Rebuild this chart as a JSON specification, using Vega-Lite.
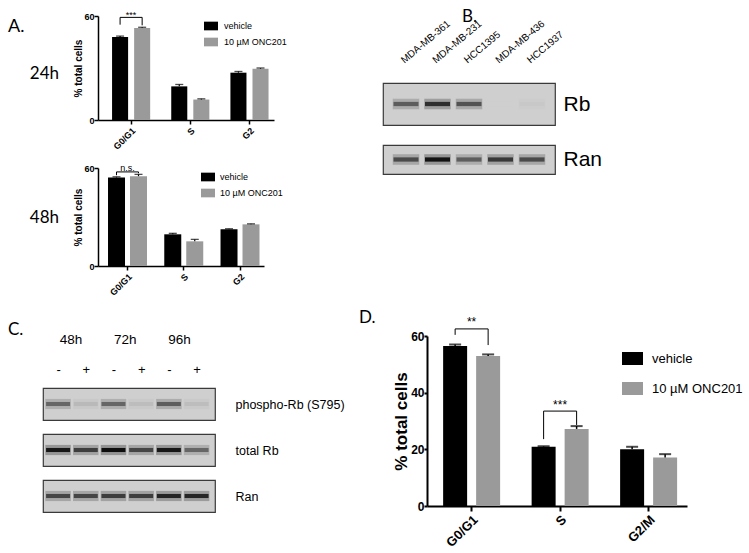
{
  "$schema": "https://vega.github.io/schema/vega-lite/v6.json",
  "padding": {"left": 8, "top": 8, "right": 5, "bottom": 5},
  "background": "white",
  "config": {
    "font": "Liberation Sans",
    "view": {"stroke": null},
    "axis": {"labelFont": "Liberation Sans", "titleFont": "Liberation Sans", "domainColor": "#000", "tickColor": "#000", "labelColor": "#000", "titleColor": "#000", "grid": false},
    "legend": {"labelFont": "Liberation Sans", "labelColor": "#000"},
    "title": {"color": "#000", "fontWeight": "normal"}
  },
  "datasets": {
    "cc": [
      {"panel": "24h", "phase": "G0/G1", "treat": "vehicle", "mean": 47.9, "hi": 48.4},
      {"panel": "24h", "phase": "G0/G1", "treat": "10 µM ONC201", "mean": 53.1, "hi": 53.5},
      {"panel": "24h", "phase": "S", "treat": "vehicle", "mean": 19.4, "hi": 20.5},
      {"panel": "24h", "phase": "S", "treat": "10 µM ONC201", "mean": 11.8, "hi": 12.2},
      {"panel": "24h", "phase": "G2", "treat": "vehicle", "mean": 27.3, "hi": 28.0},
      {"panel": "24h", "phase": "G2", "treat": "10 µM ONC201", "mean": 29.6, "hi": 30.0},
      {"panel": "48h", "phase": "G0/G1", "treat": "vehicle", "mean": 54.2, "hi": 54.6},
      {"panel": "48h", "phase": "G0/G1", "treat": "10 µM ONC201", "mean": 55.0, "hi": 56.1},
      {"panel": "48h", "phase": "S", "treat": "vehicle", "mean": 19.4, "hi": 20.0},
      {"panel": "48h", "phase": "S", "treat": "10 µM ONC201", "mean": 15.1, "hi": 16.3},
      {"panel": "48h", "phase": "G2", "treat": "vehicle", "mean": 22.5, "hi": 22.8},
      {"panel": "48h", "phase": "G2", "treat": "10 µM ONC201", "mean": 25.5, "hi": 25.8},
      {"panel": "D", "phase": "G0/G1", "treat": "vehicle", "mean": 56.5, "hi": 57.0},
      {"panel": "D", "phase": "G0/G1", "treat": "10 µM ONC201", "mean": 52.9, "hi": 53.5},
      {"panel": "D", "phase": "S", "treat": "vehicle", "mean": 20.9, "hi": 21.1},
      {"panel": "D", "phase": "S", "treat": "10 µM ONC201", "mean": 27.2, "hi": 28.2},
      {"panel": "D", "phase": "G2/M", "treat": "vehicle", "mean": 20.0, "hi": 20.9},
      {"panel": "D", "phase": "G2/M", "treat": "10 µM ONC201", "mean": 17.1, "hi": 18.3}
    ],
    "br": [
      {"panel": "24h", "id": "a", "ord": 1, "phase": "G0/G1", "treat": "vehicle", "y": 55.0},
      {"panel": "24h", "id": "a", "ord": 2, "phase": "G0/G1", "treat": "vehicle", "y": 59.2},
      {"panel": "24h", "id": "a", "ord": 3, "phase": "G0/G1", "treat": "10 µM ONC201", "y": 59.2},
      {"panel": "24h", "id": "a", "ord": 4, "phase": "G0/G1", "treat": "10 µM ONC201", "y": 54.6},
      {"panel": "48h", "id": "b", "ord": 1, "phase": "G0/G1", "treat": "vehicle", "y": 55.6},
      {"panel": "48h", "id": "b", "ord": 2, "phase": "G0/G1", "treat": "vehicle", "y": 57.6},
      {"panel": "48h", "id": "b", "ord": 3, "phase": "G0/G1", "treat": "10 µM ONC201", "y": 57.6},
      {"panel": "48h", "id": "b", "ord": 4, "phase": "G0/G1", "treat": "10 µM ONC201", "y": 56.8},
      {"panel": "D", "id": "c", "ord": 1, "phase": "G0/G1", "treat": "vehicle", "y": 60.4},
      {"panel": "D", "id": "c", "ord": 2, "phase": "G0/G1", "treat": "vehicle", "y": 62.5},
      {"panel": "D", "id": "c", "ord": 3, "phase": "G0/G1", "treat": "10 µM ONC201", "y": 62.5},
      {"panel": "D", "id": "c", "ord": 4, "phase": "G0/G1", "treat": "10 µM ONC201", "y": 56.8},
      {"panel": "D", "id": "d", "ord": 1, "phase": "S", "treat": "vehicle", "y": 23.6},
      {"panel": "D", "id": "d", "ord": 2, "phase": "S", "treat": "vehicle", "y": 33.5},
      {"panel": "D", "id": "d", "ord": 3, "phase": "S", "treat": "10 µM ONC201", "y": 33.5},
      {"panel": "D", "id": "d", "ord": 4, "phase": "S", "treat": "10 µM ONC201", "y": 28.6}
    ],
    "sig": [
      {"panel": "24h", "phase": "G0/G1", "y": 58.6, "label": "***"},
      {"panel": "48h", "phase": "G0/G1", "y": 58.4, "label": "n.s."},
      {"panel": "D", "phase": "G0/G1", "y": 63.4, "label": "**"},
      {"panel": "D", "phase": "S", "y": 34.2, "label": "***"}
    ],
    "blotB": [
      {"row": "Rb", "lane": "MDA-MB-361", "v": 0.55},
      {"row": "Rb", "lane": "MDA-MB-231", "v": 0.8},
      {"row": "Rb", "lane": "HCC1395", "v": 0.6},
      {"row": "Rb", "lane": "MDA-MB-436", "v": 0.0},
      {"row": "Rb", "lane": "HCC1937", "v": 0.03},
      {"row": "Ran", "lane": "MDA-MB-361", "v": 0.65},
      {"row": "Ran", "lane": "MDA-MB-231", "v": 0.97},
      {"row": "Ran", "lane": "HCC1395", "v": 0.55},
      {"row": "Ran", "lane": "MDA-MB-436", "v": 0.75},
      {"row": "Ran", "lane": "HCC1937", "v": 0.65}
    ],
    "blotC": [
      {"row": "phospho-Rb (S795)", "lane": "48h -", "v": 0.5},
      {"row": "phospho-Rb (S795)", "lane": "48h +", "v": 0.1},
      {"row": "phospho-Rb (S795)", "lane": "72h -", "v": 0.5},
      {"row": "phospho-Rb (S795)", "lane": "72h +", "v": 0.08},
      {"row": "phospho-Rb (S795)", "lane": "96h -", "v": 0.55},
      {"row": "phospho-Rb (S795)", "lane": "96h +", "v": 0.08},
      {"row": "total Rb", "lane": "48h -", "v": 0.95},
      {"row": "total Rb", "lane": "48h +", "v": 0.72},
      {"row": "total Rb", "lane": "72h -", "v": 1.0},
      {"row": "total Rb", "lane": "72h +", "v": 0.68},
      {"row": "total Rb", "lane": "96h -", "v": 0.95},
      {"row": "total Rb", "lane": "96h +", "v": 0.5},
      {"row": "Ran", "lane": "48h -", "v": 0.68},
      {"row": "Ran", "lane": "48h +", "v": 0.68},
      {"row": "Ran", "lane": "72h -", "v": 0.72},
      {"row": "Ran", "lane": "72h +", "v": 0.72},
      {"row": "Ran", "lane": "96h -", "v": 0.86},
      {"row": "Ran", "lane": "96h +", "v": 0.86}
    ],
    "times": [{"time": "48h"}, {"time": "72h"}, {"time": "96h"}]
  },
  "align": "none",
  "spacing": 11,
  "resolve": {"scale": {"color": "independent", "xOffset": "independent"}, "legend": {"color": "independent"}},
  "vconcat": [
    {
      "align": "none",
      "spacing": 95,
      "resolve": {"scale": {"color": "independent", "xOffset": "independent"}, "legend": {"color": "independent"}},
      "hconcat": [
        {
          "align": "none",
          "spacing": 4,
          "resolve": {"scale": {"color": "independent", "xOffset": "independent"}, "legend": {"color": "independent"}},
          "hconcat": [
            {
              "width": 14, "height": 14,
              "view": {"fill": "#ffffff"},
              "title": {"text": "A.", "anchor": "start", "frame": "group", "dx": 0, "offset": -34, "baseline": "alphabetic", "fontSize": 18, "font": "Lato"},
              "data": {"values": [{"k": 1}]},
              "mark": {"type": "point", "opacity": 0}
            },
            {
              "align": "each",
              "spacing": 11,
              "resolve": {"scale": {"color": "independent", "xOffset": "independent"}, "legend": {"color": "independent"}},
              "vconcat": [
                {
                  "width": 176, "height": 104,
                  "title": {"text": "24h", "orient": "left", "angle": 0, "align": "left", "baseline": "middle", "anchor": "middle", "offset": 15, "dy": 6, "fontSize": 17, "font": "Lato"},
                  "layer": [
                    {
                      "data": {"name": "cc"},
                      "transform": [{"filter": "datum.panel === '24h'"}],
                      "mark": {"type": "bar"},
                      "encoding": {
                        "x": {"field": "phase", "type": "nominal", "sort": ["G0/G1", "S", "G2"], "scale": {"type": "band", "paddingInner": 0.356, "paddingOuter": 0.165, "align": 0.72}, "axis": {"title": null, "labelAngle": -45, "labelFontSize": 9, "labelFontWeight": "bold", "tickSize": 4, "tickWidth": 1.5, "domainWidth": 1.5, "labelPadding": 2}},
                        "xOffset": {"field": "treat", "type": "nominal", "sort": ["vehicle", "10 µM ONC201"], "scale": {"paddingInner": 0.273, "paddingOuter": 0}},
                        "y": {"field": "mean", "type": "quantitative", "scale": {"domain": [0, 60], "nice": false}, "axis": {"title": "% total cells", "values": [0, 20, 40, 60], "labelFontSize": 9, "labelFontWeight": "bold", "titleFontSize": 10, "titleFontWeight": "bold", "titlePadding": 0, "tickSize": 4, "tickWidth": 1.5, "domainWidth": 1.5, "labelPadding": 0}},
                        "color": {"field": "treat", "type": "nominal", "sort": ["vehicle", "10 µM ONC201"], "scale": {"domain": ["vehicle", "10 µM ONC201"], "range": ["#000000", "#9a9a9a"]}, "legend": {"title": null, "orient": "none", "legendX": 106, "legendY": 3, "symbolType": "M-1,-0.62H1V0.62H-1Z", "symbolSize": 196, "symbolStrokeWidth": 0, "labelFontSize": 9, "rowPadding": 4, "padding": 0, "labelOffset": 6}}
                      }
                    },
                    {
                      "data": {"name": "cc"},
                      "transform": [{"filter": "datum.panel === '24h'"}],
                      "mark": {"type": "rule", "color": "#000", "strokeWidth": 1.2},
                      "encoding": {
                        "x": {"field": "phase", "type": "nominal", "sort": ["G0/G1", "S", "G2"]},
                        "xOffset": {"field": "treat", "type": "nominal", "sort": ["vehicle", "10 µM ONC201"]},
                        "y": {"field": "mean", "type": "quantitative"},
                        "y2": {"field": "hi"}
                      }
                    },
                    {
                      "data": {"name": "cc"},
                      "transform": [{"filter": "datum.panel === '24h'"}],
                      "mark": {"type": "tick", "orient": "horizontal", "color": "#000", "thickness": 1.3, "size": 8},
                      "encoding": {
                        "x": {"field": "phase", "type": "nominal", "sort": ["G0/G1", "S", "G2"]},
                        "xOffset": {"field": "treat", "type": "nominal", "sort": ["vehicle", "10 µM ONC201"]},
                        "y": {"field": "hi", "type": "quantitative"}
                      }
                    },
                    {
                      "data": {"name": "br"},
                      "transform": [{"filter": "datum.panel === '24h'"}],
                      "mark": {"type": "line", "color": "#000", "strokeWidth": 1},
                      "encoding": {
                        "x": {"field": "phase", "type": "nominal", "sort": ["G0/G1", "S", "G2"]},
                        "xOffset": {"field": "treat", "type": "nominal", "sort": ["vehicle", "10 µM ONC201"]},
                        "y": {"field": "y", "type": "quantitative"},
                        "order": {"field": "ord", "type": "quantitative"},
                        "detail": {"field": "id", "type": "nominal"}
                      }
                    },
                    {
                      "data": {"name": "sig"},
                      "transform": [{"filter": "datum.panel === '24h'"}],
                      "mark": {"type": "text", "fontSize": 9, "baseline": "alphabetic", "color": "#000"},
                      "encoding": {
                        "x": {"field": "phase", "type": "nominal", "sort": ["G0/G1", "S", "G2"]},
                        "y": {"field": "y", "type": "quantitative"},
                        "text": {"field": "label"}
                      }
                    }
                  ]
                },
                {
                  "width": 166, "height": 98,
                  "title": {"text": "48h", "orient": "left", "angle": 0, "align": "left", "baseline": "middle", "anchor": "middle", "offset": 15, "dy": 1, "fontSize": 17, "font": "Lato"},
                  "layer": [
                    {
                      "data": {"name": "cc"},
                      "transform": [{"filter": "datum.panel === '48h'"}],
                      "mark": {"type": "bar"},
                      "encoding": {
                        "x": {"field": "phase", "type": "nominal", "sort": ["G0/G1", "S", "G2"], "scale": {"type": "band", "paddingInner": 0.307, "paddingOuter": 0.129, "align": 0.69}, "axis": {"title": null, "labelAngle": -45, "labelFontSize": 9, "labelFontWeight": "bold", "tickSize": 4, "tickWidth": 1.5, "domainWidth": 1.5, "labelPadding": 2}},
                        "xOffset": {"field": "treat", "type": "nominal", "sort": ["vehicle", "10 µM ONC201"], "scale": {"paddingInner": 0.227, "paddingOuter": 0}},
                        "y": {"field": "mean", "type": "quantitative", "scale": {"domain": [0, 60], "nice": false}, "axis": {"title": "% total cells", "values": [0, 20, 40, 60], "labelFontSize": 9, "labelFontWeight": "bold", "titleFontSize": 10, "titleFontWeight": "bold", "titlePadding": 0, "tickSize": 4, "tickWidth": 1.5, "domainWidth": 1.5, "labelPadding": 0}},
                        "color": {"field": "treat", "type": "nominal", "sort": ["vehicle", "10 µM ONC201"], "scale": {"domain": ["vehicle", "10 µM ONC201"], "range": ["#000000", "#9a9a9a"]}, "legend": {"title": null, "orient": "none", "legendX": 103, "legendY": 2, "symbolType": "M-1,-0.62H1V0.62H-1Z", "symbolSize": 196, "symbolStrokeWidth": 0, "labelFontSize": 9, "rowPadding": 4, "padding": 0, "labelOffset": 5}}
                      }
                    },
                    {
                      "data": {"name": "cc"},
                      "transform": [{"filter": "datum.panel === '48h'"}],
                      "mark": {"type": "rule", "color": "#000", "strokeWidth": 1.2},
                      "encoding": {
                        "x": {"field": "phase", "type": "nominal", "sort": ["G0/G1", "S", "G2"]},
                        "xOffset": {"field": "treat", "type": "nominal", "sort": ["vehicle", "10 µM ONC201"]},
                        "y": {"field": "mean", "type": "quantitative"},
                        "y2": {"field": "hi"}
                      }
                    },
                    {
                      "data": {"name": "cc"},
                      "transform": [{"filter": "datum.panel === '48h'"}],
                      "mark": {"type": "tick", "orient": "horizontal", "color": "#000", "thickness": 1.3, "size": 8},
                      "encoding": {
                        "x": {"field": "phase", "type": "nominal", "sort": ["G0/G1", "S", "G2"]},
                        "xOffset": {"field": "treat", "type": "nominal", "sort": ["vehicle", "10 µM ONC201"]},
                        "y": {"field": "hi", "type": "quantitative"}
                      }
                    },
                    {
                      "data": {"name": "br"},
                      "transform": [{"filter": "datum.panel === '48h'"}],
                      "mark": {"type": "line", "color": "#000", "strokeWidth": 1},
                      "encoding": {
                        "x": {"field": "phase", "type": "nominal", "sort": ["G0/G1", "S", "G2"]},
                        "xOffset": {"field": "treat", "type": "nominal", "sort": ["vehicle", "10 µM ONC201"]},
                        "y": {"field": "y", "type": "quantitative"},
                        "order": {"field": "ord", "type": "quantitative"},
                        "detail": {"field": "id", "type": "nominal"}
                      }
                    },
                    {
                      "data": {"name": "sig"},
                      "transform": [{"filter": "datum.panel === '48h'"}],
                      "mark": {"type": "text", "fontSize": 9, "baseline": "alphabetic", "color": "#000"},
                      "encoding": {
                        "x": {"field": "phase", "type": "nominal", "sort": ["G0/G1", "S", "G2"]},
                        "y": {"field": "y", "type": "quantitative"},
                        "text": {"field": "label"}
                      }
                    }
                  ]
                }
              ]
            }
          ]
        },
        {
          "bounds": "flush",
          "spacing": 20,
          "resolve": {"scale": {"color": "independent"}, "legend": {"color": "independent"}},
          "vconcat": [
            {
              "width": 172, "height": 47,
              "view": {"fill": "#ffffff"},
              "title": {"text": "B.", "anchor": "start", "frame": "group", "dx": 79, "offset": -23, "baseline": "alphabetic", "fontSize": 17, "font": "Lato"},
              "data": {"values": [{"k": 1}]},
              "mark": {"type": "point", "opacity": 0}
            },
            {
              "width": 172, "height": 42,
              "view": {"fill": "#cfcfcf", "stroke": "#3a3a3a", "strokeWidth": 1.2},
              "layer": [
                {
                  "data": {"name": "blotB"},
                  "transform": [{"filter": "datum.row === 'Rb'"}],
                  "mark": {"type": "point", "shape": "M-1,-0.4H1V0.4H-1Z", "filled": true, "size": 700, "opacity": 0.3, "strokeWidth": 0},
                  "encoding": {
                    "x": {"field": "lane", "type": "nominal", "sort": ["MDA-MB-361", "MDA-MB-231", "HCC1395", "MDA-MB-436", "HCC1937"], "scale": {"type": "point", "padding": 0.73, "align": 0.5}, "axis": {"orient": "top", "title": null, "domain": false, "ticks": false, "tickSize": 0, "labelAngle": -40, "labelAlign": "left", "labelBaseline": "middle", "labelPadding": 22, "labelOffset": -4, "labelFontSize": 10}},
                    "y": {"field": "row", "type": "nominal", "axis": {"orient": "right", "title": null, "domain": false, "ticks": false, "tickSize": 0, "labelPadding": 8, "labelFontSize": 21, "labelAngle": 0}},
                    "color": {"field": "v", "type": "quantitative", "scale": {"domain": [0, 1], "range": ["#cfcfcf", "#0d0d0d"]}, "legend": null}
                  }
                },
                {
                  "data": {"name": "blotB"},
                  "transform": [{"filter": "datum.row === 'Rb'"}],
                  "mark": {"type": "point", "shape": "M-1,-0.17H1V0.17H-1Z", "filled": true, "size": 625, "opacity": 1, "strokeWidth": 0},
                  "encoding": {
                    "x": {"field": "lane", "type": "nominal", "sort": ["MDA-MB-361", "MDA-MB-231", "HCC1395", "MDA-MB-436", "HCC1937"]},
                    "y": {"field": "row", "type": "nominal"},
                    "color": {"field": "v", "type": "quantitative", "scale": {"domain": [0, 1], "range": ["#cfcfcf", "#0d0d0d"]}, "legend": null}
                  }
                }
              ]
            },
            {
              "width": 172, "height": 29,
              "view": {"fill": "#cfcfcf", "stroke": "#3a3a3a", "strokeWidth": 1.2},
              "layer": [
                {
                  "data": {"name": "blotB"},
                  "transform": [{"filter": "datum.row === 'Ran'"}],
                  "mark": {"type": "point", "shape": "M-1,-0.4H1V0.4H-1Z", "filled": true, "size": 700, "opacity": 0.3, "strokeWidth": 0},
                  "encoding": {
                    "x": {"field": "lane", "type": "nominal", "sort": ["MDA-MB-361", "MDA-MB-231", "HCC1395", "MDA-MB-436", "HCC1937"], "scale": {"type": "point", "padding": 0.73, "align": 0.5}, "axis": null},
                    "y": {"field": "row", "type": "nominal", "axis": {"orient": "right", "title": null, "domain": false, "ticks": false, "tickSize": 0, "labelPadding": 8, "labelFontSize": 21, "labelAngle": 0}},
                    "color": {"field": "v", "type": "quantitative", "scale": {"domain": [0, 1], "range": ["#cfcfcf", "#0d0d0d"]}, "legend": null}
                  }
                },
                {
                  "data": {"name": "blotB"},
                  "transform": [{"filter": "datum.row === 'Ran'"}],
                  "mark": {"type": "point", "shape": "M-1,-0.17H1V0.17H-1Z", "filled": true, "size": 625, "opacity": 1, "strokeWidth": 0},
                  "encoding": {
                    "x": {"field": "lane", "type": "nominal", "sort": ["MDA-MB-361", "MDA-MB-231", "HCC1395", "MDA-MB-436", "HCC1937"]},
                    "y": {"field": "row", "type": "nominal"},
                    "color": {"field": "v", "type": "quantitative", "scale": {"domain": [0, 1], "range": ["#cfcfcf", "#0d0d0d"]}, "legend": null}
                  }
                }
              ]
            }
          ]
        }
      ]
    },
    {
      "title": {"text": "D.", "anchor": "start", "frame": "bounds", "dx": 351, "offset": -24, "baseline": "alphabetic", "fontSize": 17, "font": "Lato"},
      "align": "none",
      "spacing": 47,
      "resolve": {"scale": {"color": "independent", "xOffset": "independent"}, "legend": {"color": "independent"}},
      "hconcat": [
        {
          "align": "none",
          "spacing": 18,
          "resolve": {"scale": {"color": "independent"}, "legend": {"color": "independent"}},
          "hconcat": [
            {
              "width": 14, "height": 14,
              "view": {"fill": "#ffffff"},
              "title": {"text": "C.", "anchor": "start", "frame": "group", "dx": 0, "offset": -16, "baseline": "alphabetic", "fontSize": 17, "font": "Lato"},
              "data": {"values": [{"k": 1}]},
              "mark": {"type": "point", "opacity": 0}
            },
            {
              "bounds": "flush",
              "spacing": 14,
              "resolve": {"scale": {"color": "independent"}, "legend": {"color": "independent"}},
              "vconcat": [
                {
                  "width": 172, "height": 38,
                  "view": {"fill": "#ffffff"},
                  "data": {"name": "times"},
                  "mark": {"type": "point", "opacity": 0},
                  "encoding": {
                    "x": {"field": "time", "type": "nominal", "sort": ["48h", "72h", "96h"], "scale": {"type": "point", "padding": 0.585, "align": 0.433}, "axis": {"orient": "top", "title": null, "domain": false, "ticks": false, "tickSize": 0, "labelAngle": 0, "labelPadding": -7, "labelBaseline": "alphabetic", "labelFontSize": 13.5}}
                  }
                },
                {
                  "width": 172, "height": 32,
                  "view": {"fill": "#cfcfcf", "stroke": "#3a3a3a", "strokeWidth": 1.2},
                  "layer": [
                    {
                      "data": {"name": "blotC"},
                      "transform": [{"filter": "datum.row === 'phospho-Rb (S795)'"}],
                      "mark": {"type": "point", "shape": "M-1,-0.4H1V0.4H-1Z", "filled": true, "size": 650, "opacity": 0.3, "strokeWidth": 0},
                      "encoding": {
                        "x": {"field": "lane", "type": "nominal", "sort": ["48h -", "48h +", "72h -", "72h +", "96h -", "96h +"], "scale": {"type": "point", "padding": 0.605, "align": 0.45}, "axis": {"orient": "top", "title": null, "domain": false, "ticks": false, "tickSize": 0, "labelExpr": "split(datum.value, ' ')[1]", "labelAngle": 0, "labelPadding": 12, "labelFontSize": 13}},
                        "y": {"field": "row", "type": "nominal", "axis": {"orient": "right", "title": null, "domain": false, "ticks": false, "tickSize": 0, "labelPadding": 20, "labelFontSize": 12.5, "labelAngle": 0}},
                        "color": {"field": "v", "type": "quantitative", "scale": {"domain": [0, 1], "range": ["#cfcfcf", "#0d0d0d"]}, "legend": null}
                      }
                    },
                    {
                      "data": {"name": "blotC"},
                      "transform": [{"filter": "datum.row === 'phospho-Rb (S795)'"}],
                      "mark": {"type": "point", "shape": "M-1,-0.17H1V0.17H-1Z", "filled": true, "size": 576, "opacity": 1, "strokeWidth": 0},
                      "encoding": {
                        "x": {"field": "lane", "type": "nominal", "sort": ["48h -", "48h +", "72h -", "72h +", "96h -", "96h +"]},
                        "y": {"field": "row", "type": "nominal"},
                        "color": {"field": "v", "type": "quantitative", "scale": {"domain": [0, 1], "range": ["#cfcfcf", "#0d0d0d"]}, "legend": null}
                      }
                    }
                  ]
                },
                {
                  "width": 172, "height": 32,
                  "view": {"fill": "#cfcfcf", "stroke": "#3a3a3a", "strokeWidth": 1.2},
                  "layer": [
                    {
                      "data": {"name": "blotC"},
                      "transform": [{"filter": "datum.row === 'total Rb'"}],
                      "mark": {"type": "point", "shape": "M-1,-0.4H1V0.4H-1Z", "filled": true, "size": 650, "opacity": 0.3, "strokeWidth": 0},
                      "encoding": {
                        "x": {"field": "lane", "type": "nominal", "sort": ["48h -", "48h +", "72h -", "72h +", "96h -", "96h +"], "scale": {"type": "point", "padding": 0.605, "align": 0.45}, "axis": null},
                        "y": {"field": "row", "type": "nominal", "axis": {"orient": "right", "title": null, "domain": false, "ticks": false, "tickSize": 0, "labelPadding": 20, "labelFontSize": 12.5, "labelAngle": 0}},
                        "color": {"field": "v", "type": "quantitative", "scale": {"domain": [0, 1], "range": ["#cfcfcf", "#0d0d0d"]}, "legend": null}
                      }
                    },
                    {
                      "data": {"name": "blotC"},
                      "transform": [{"filter": "datum.row === 'total Rb'"}],
                      "mark": {"type": "point", "shape": "M-1,-0.17H1V0.17H-1Z", "filled": true, "size": 576, "opacity": 1, "strokeWidth": 0},
                      "encoding": {
                        "x": {"field": "lane", "type": "nominal", "sort": ["48h -", "48h +", "72h -", "72h +", "96h -", "96h +"]},
                        "y": {"field": "row", "type": "nominal"},
                        "color": {"field": "v", "type": "quantitative", "scale": {"domain": [0, 1], "range": ["#cfcfcf", "#0d0d0d"]}, "legend": null}
                      }
                    }
                  ]
                },
                {
                  "width": 172, "height": 32,
                  "view": {"fill": "#cfcfcf", "stroke": "#3a3a3a", "strokeWidth": 1.2},
                  "layer": [
                    {
                      "data": {"name": "blotC"},
                      "transform": [{"filter": "datum.row === 'Ran'"}],
                      "mark": {"type": "point", "shape": "M-1,-0.4H1V0.4H-1Z", "filled": true, "size": 650, "opacity": 0.3, "strokeWidth": 0},
                      "encoding": {
                        "x": {"field": "lane", "type": "nominal", "sort": ["48h -", "48h +", "72h -", "72h +", "96h -", "96h +"], "scale": {"type": "point", "padding": 0.605, "align": 0.45}, "axis": null},
                        "y": {"field": "row", "type": "nominal", "axis": {"orient": "right", "title": null, "domain": false, "ticks": false, "tickSize": 0, "labelPadding": 20, "labelFontSize": 12.5, "labelAngle": 0}},
                        "color": {"field": "v", "type": "quantitative", "scale": {"domain": [0, 1], "range": ["#cfcfcf", "#0d0d0d"]}, "legend": null}
                      }
                    },
                    {
                      "data": {"name": "blotC"},
                      "transform": [{"filter": "datum.row === 'Ran'"}],
                      "mark": {"type": "point", "shape": "M-1,-0.17H1V0.17H-1Z", "filled": true, "size": 576, "opacity": 1, "strokeWidth": 0},
                      "encoding": {
                        "x": {"field": "lane", "type": "nominal", "sort": ["48h -", "48h +", "72h -", "72h +", "96h -", "96h +"]},
                        "y": {"field": "row", "type": "nominal"},
                        "color": {"field": "v", "type": "quantitative", "scale": {"domain": [0, 1], "range": ["#cfcfcf", "#0d0d0d"]}, "legend": null}
                      }
                    }
                  ]
                }
              ]
            }
          ]
        },
        {
          "width": 260, "height": 170,
          "layer": [
            {
              "data": {"name": "cc"},
              "transform": [{"filter": "datum.panel === 'D'"}],
              "mark": {"type": "bar"},
              "encoding": {
                "x": {"field": "phase", "type": "nominal", "sort": ["G0/G1", "S", "G2/M"], "scale": {"type": "band", "paddingInner": 0.356, "paddingOuter": 0.147, "align": 0.62}, "axis": {"title": null, "labelAngle": -45, "labelFontSize": 13, "labelFontWeight": "bold", "tickSize": 5, "tickWidth": 2, "domainWidth": 2, "labelPadding": 2}},
                "xOffset": {"field": "treat", "type": "nominal", "sort": ["vehicle", "10 µM ONC201"], "scale": {"paddingInner": 0.273, "paddingOuter": 0}},
                "y": {"field": "mean", "type": "quantitative", "scale": {"domain": [0, 60], "nice": false}, "axis": {"title": "% total cells", "values": [0, 20, 40, 60], "labelFontSize": 12, "labelFontWeight": "bold", "titleFontSize": 17, "titleFontWeight": "bold", "titlePadding": 0, "tickSize": 3, "tickWidth": 2, "domainWidth": 2, "labelPadding": 0}},
                "color": {"field": "treat", "type": "nominal", "sort": ["vehicle", "10 µM ONC201"], "scale": {"domain": ["vehicle", "10 µM ONC201"], "range": ["#000000", "#9a9a9a"]}, "legend": {"title": null, "orient": "none", "legendX": 195, "legendY": 12, "symbolType": "M-1,-0.62H1V0.62H-1Z", "symbolSize": 441, "symbolStrokeWidth": 0, "labelFontSize": 13, "rowPadding": 12, "padding": 0, "labelOffset": 9}}
              }
            },
            {
              "data": {"name": "cc"},
              "transform": [{"filter": "datum.panel === 'D'"}],
              "mark": {"type": "rule", "color": "#000", "strokeWidth": 1.5},
              "encoding": {
                "x": {"field": "phase", "type": "nominal", "sort": ["G0/G1", "S", "G2/M"]},
                "xOffset": {"field": "treat", "type": "nominal", "sort": ["vehicle", "10 µM ONC201"]},
                "y": {"field": "mean", "type": "quantitative"},
                "y2": {"field": "hi"}
              }
            },
            {
              "data": {"name": "cc"},
              "transform": [{"filter": "datum.panel === 'D'"}],
              "mark": {"type": "tick", "orient": "horizontal", "color": "#000", "thickness": 2, "size": 12},
              "encoding": {
                "x": {"field": "phase", "type": "nominal", "sort": ["G0/G1", "S", "G2/M"]},
                "xOffset": {"field": "treat", "type": "nominal", "sort": ["vehicle", "10 µM ONC201"]},
                "y": {"field": "hi", "type": "quantitative"}
              }
            },
            {
              "data": {"name": "br"},
              "transform": [{"filter": "datum.panel === 'D'"}],
              "mark": {"type": "line", "color": "#000", "strokeWidth": 1},
              "encoding": {
                "x": {"field": "phase", "type": "nominal", "sort": ["G0/G1", "S", "G2/M"]},
                "xOffset": {"field": "treat", "type": "nominal", "sort": ["vehicle", "10 µM ONC201"]},
                "y": {"field": "y", "type": "quantitative"},
                "order": {"field": "ord", "type": "quantitative"},
                "detail": {"field": "id", "type": "nominal"}
              }
            },
            {
              "data": {"name": "sig"},
              "transform": [{"filter": "datum.panel === 'D'"}],
              "mark": {"type": "text", "fontSize": 12, "baseline": "alphabetic", "color": "#000"},
              "encoding": {
                "x": {"field": "phase", "type": "nominal", "sort": ["G0/G1", "S", "G2/M"]},
                "y": {"field": "y", "type": "quantitative"},
                "text": {"field": "label"}
              }
            }
          ]
        }
      ]
    }
  ]
}
